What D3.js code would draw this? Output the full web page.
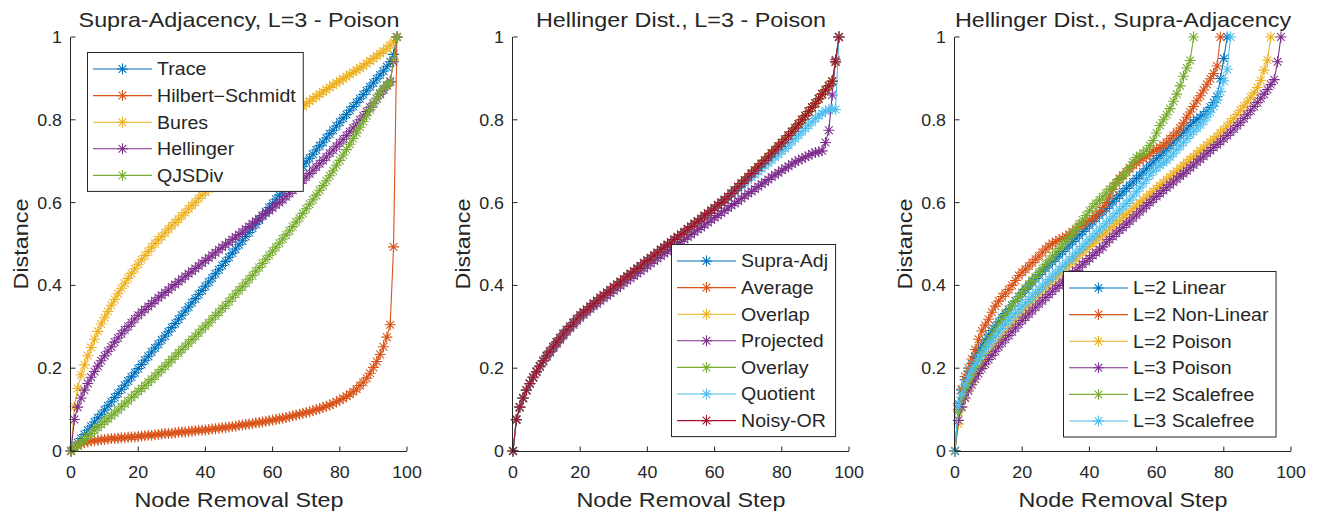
<!DOCTYPE html>
<html>
<head>
<meta charset="utf-8">
<script src="https://cdn.jsdelivr.net/npm/d3@7/dist/d3.min.js"></script>
<style>
  html, body { margin: 0; padding: 0; background: #fff; }
  svg { display: block; }
</style>
</head>
<body>
<svg id="chart" width="1319" height="517"></svg>
<script>
// ---- data (one value per removal step) ----
const xTicks = [0, 20, 40, 60, 80, 100];
const yTicks = [0, 0.2, 0.4, 0.6, 0.8, 1];
const yTickLabels = ['0', '0.2', '0.4', '0.6', '0.8', '1'];

const titles = [
    'Supra-Adjacency, L=3 - Poison',
    'Hellinger Dist., L=3 - Poison',
    'Hellinger Dist., Supra-Adjacency'
];

const distanceNames = ['Trace', 'Hilbert\u2212Schmidt', 'Bures', 'Hellinger', 'QJSDiv'];
const reductionNames = ['Supra-Adj', 'Average', 'Overlap', 'Projected', 'Overlay', 'Quotient', 'Noisy-OR'];
const networkNames = ['L=2 Linear', 'L=2 Non-Linear', 'L=2 Poison', 'L=3 Poison', 'L=2 Scalefree', 'L=3 Scalefree'];

// Hellinger distance, supra-adjacency, L=3 Poison (shared by the first two panels)
const hellingerL3 = [
    0, 0.076, 0.106, 0.128, 0.147, 0.163, 0.178, 0.192, 0.205, 0.218,
    0.230, 0.241, 0.252, 0.263, 0.273, 0.283, 0.292, 0.301, 0.310, 0.319,
    0.328, 0.335, 0.342, 0.349, 0.356, 0.363, 0.370, 0.376, 0.383, 0.389,
    0.396, 0.402, 0.409, 0.415, 0.422, 0.428, 0.434, 0.441, 0.447, 0.454,
    0.460, 0.466, 0.473, 0.479, 0.486, 0.492, 0.498, 0.504, 0.511, 0.517,
    0.523, 0.529, 0.536, 0.542, 0.549, 0.555, 0.561, 0.568, 0.574, 0.581,
    0.587, 0.594, 0.600, 0.607, 0.614, 0.622, 0.630, 0.638, 0.646, 0.654,
    0.662, 0.670, 0.678, 0.686, 0.694, 0.702, 0.710, 0.719, 0.727, 0.736,
    0.744, 0.753, 0.762, 0.771, 0.780, 0.790, 0.800, 0.810, 0.820, 0.830,
    0.840, 0.851, 0.862, 0.872, 0.882, 0.893, 0.940, 1.000
];

const traceDist = [
    0, 0.010, 0.020, 0.030, 0.040, 0.050, 0.060, 0.070, 0.080, 0.089,
    0.099, 0.109, 0.119, 0.129, 0.139, 0.149, 0.159, 0.169, 0.179, 0.189,
    0.199, 0.209, 0.219, 0.229, 0.239, 0.249, 0.258, 0.268, 0.278, 0.288,
    0.298, 0.308, 0.318, 0.328, 0.338, 0.348, 0.358, 0.368, 0.378, 0.388,
    0.398, 0.408, 0.418, 0.428, 0.438, 0.448, 0.458, 0.468, 0.478, 0.488,
    0.498, 0.508, 0.518, 0.528, 0.538, 0.548, 0.558, 0.568, 0.578, 0.588,
    0.598, 0.608, 0.618, 0.628, 0.638, 0.648, 0.658, 0.668, 0.678, 0.688,
    0.698, 0.707, 0.717, 0.727, 0.737, 0.746, 0.756, 0.766, 0.775, 0.785,
    0.794, 0.804, 0.813, 0.823, 0.832, 0.842, 0.851, 0.861, 0.870, 0.880,
    0.889, 0.899, 0.908, 0.918, 0.928, 0.940, 0.958, 1.000
];

const hilbertSchmidtDist = [
    0, 0.008, 0.013, 0.017, 0.020, 0.022, 0.024, 0.025, 0.026, 0.027,
    0.028, 0.029, 0.030, 0.030, 0.031, 0.032, 0.032, 0.033, 0.034, 0.034,
    0.035, 0.036, 0.037, 0.038, 0.038, 0.039, 0.040, 0.041, 0.042, 0.042,
    0.043, 0.044, 0.045, 0.046, 0.046, 0.047, 0.048, 0.049, 0.050, 0.050,
    0.051, 0.052, 0.053, 0.054, 0.055, 0.056, 0.057, 0.058, 0.059, 0.060,
    0.062, 0.063, 0.064, 0.065, 0.066, 0.068, 0.069, 0.070, 0.072, 0.073,
    0.075, 0.076, 0.078, 0.079, 0.081, 0.083, 0.085, 0.087, 0.089, 0.091,
    0.093, 0.095, 0.097, 0.100, 0.102, 0.105, 0.108, 0.111, 0.115, 0.119,
    0.123, 0.127, 0.132, 0.137, 0.143, 0.150, 0.158, 0.166, 0.176, 0.188,
    0.202, 0.216, 0.233, 0.252, 0.275, 0.305, 0.493, 1.000
];

const buresDist = [
    0, 0.107, 0.151, 0.184, 0.208, 0.230, 0.250, 0.270, 0.289, 0.307,
    0.322, 0.337, 0.352, 0.366, 0.380, 0.393, 0.405, 0.417, 0.429, 0.440,
    0.451, 0.462, 0.472, 0.482, 0.492, 0.501, 0.510, 0.518, 0.527, 0.536,
    0.544, 0.552, 0.560, 0.568, 0.576, 0.585, 0.593, 0.601, 0.610, 0.618,
    0.626, 0.633, 0.640, 0.648, 0.655, 0.662, 0.670, 0.677, 0.684, 0.691,
    0.698, 0.705, 0.712, 0.720, 0.727, 0.734, 0.741, 0.748, 0.755, 0.762,
    0.769, 0.776, 0.783, 0.790, 0.797, 0.804, 0.811, 0.818, 0.826, 0.833,
    0.839, 0.845, 0.851, 0.856, 0.862, 0.867, 0.873, 0.878, 0.884, 0.889,
    0.894, 0.899, 0.904, 0.910, 0.915, 0.920, 0.925, 0.930, 0.936, 0.942,
    0.948, 0.954, 0.960, 0.966, 0.973, 0.980, 0.988, 1.000
];

const qjsDiv = [
    0, 0.007, 0.014, 0.021, 0.028, 0.035, 0.042, 0.050, 0.057, 0.064,
    0.071, 0.078, 0.085, 0.092, 0.099, 0.107, 0.114, 0.121, 0.129, 0.136,
    0.144, 0.151, 0.158, 0.166, 0.173, 0.181, 0.189, 0.197, 0.205, 0.213,
    0.221, 0.229, 0.237, 0.245, 0.253, 0.261, 0.269, 0.277, 0.285, 0.294,
    0.302, 0.310, 0.318, 0.327, 0.335, 0.344, 0.352, 0.361, 0.370, 0.379,
    0.388, 0.397, 0.406, 0.415, 0.424, 0.434, 0.443, 0.453, 0.463, 0.473,
    0.483, 0.492, 0.502, 0.512, 0.522, 0.532, 0.542, 0.553, 0.563, 0.574,
    0.585, 0.596, 0.607, 0.618, 0.630, 0.641, 0.653, 0.665, 0.677, 0.690,
    0.702, 0.715, 0.728, 0.741, 0.755, 0.768, 0.782, 0.796, 0.810, 0.824,
    0.838, 0.852, 0.865, 0.876, 0.884, 0.890, 0.945, 1.000
];

const projectedDist = [
    0, 0.075, 0.105, 0.127, 0.146, 0.162, 0.177, 0.190, 0.203, 0.216,
    0.227, 0.238, 0.249, 0.259, 0.269, 0.279, 0.288, 0.297, 0.305, 0.314,
    0.322, 0.329, 0.336, 0.343, 0.350, 0.356, 0.363, 0.369, 0.375, 0.381,
    0.387, 0.393, 0.399, 0.405, 0.411, 0.417, 0.423, 0.429, 0.435, 0.441,
    0.447, 0.453, 0.459, 0.465, 0.471, 0.477, 0.482, 0.488, 0.494, 0.500,
    0.506, 0.511, 0.517, 0.523, 0.529, 0.535, 0.540, 0.546, 0.552, 0.558,
    0.564, 0.569, 0.575, 0.581, 0.587, 0.593, 0.598, 0.604, 0.610, 0.616,
    0.622, 0.627, 0.633, 0.639, 0.645, 0.650, 0.656, 0.662, 0.667, 0.672,
    0.678, 0.683, 0.688, 0.693, 0.698, 0.702, 0.706, 0.710, 0.714, 0.718,
    0.721, 0.723, 0.725, 0.745, 0.775, 0.860, 0.945, 1.000
];

const quotientDist = [
    0, 0.076, 0.106, 0.128, 0.147, 0.163, 0.178, 0.192, 0.205, 0.218,
    0.230, 0.241, 0.252, 0.263, 0.273, 0.283, 0.292, 0.301, 0.310, 0.319,
    0.328, 0.335, 0.342, 0.349, 0.356, 0.363, 0.370, 0.376, 0.383, 0.389,
    0.396, 0.402, 0.409, 0.415, 0.422, 0.428, 0.434, 0.441, 0.447, 0.454,
    0.460, 0.466, 0.473, 0.479, 0.486, 0.492, 0.498, 0.504, 0.511, 0.517,
    0.523, 0.529, 0.536, 0.542, 0.549, 0.555, 0.561, 0.568, 0.574, 0.581,
    0.587, 0.594, 0.600, 0.607, 0.613, 0.620, 0.627, 0.634, 0.641, 0.648,
    0.655, 0.662, 0.668, 0.675, 0.682, 0.689, 0.696, 0.703, 0.710, 0.717,
    0.724, 0.731, 0.739, 0.747, 0.755, 0.763, 0.771, 0.779, 0.787, 0.795,
    0.803, 0.810, 0.816, 0.821, 0.825, 0.826, 0.825, 1.000
];

const l2Linear = [
    0, 0.114, 0.147, 0.172, 0.193, 0.211, 0.228, 0.243, 0.256, 0.268,
    0.280, 0.291, 0.302, 0.312, 0.322, 0.332, 0.342, 0.352, 0.362, 0.372,
    0.381, 0.390, 0.399, 0.408, 0.417, 0.426, 0.434, 0.442, 0.450, 0.458,
    0.466, 0.474, 0.482, 0.490, 0.498, 0.506, 0.514, 0.522, 0.530, 0.538,
    0.546, 0.554, 0.562, 0.570, 0.578, 0.586, 0.594, 0.602, 0.610, 0.618,
    0.626, 0.634, 0.642, 0.650, 0.658, 0.666, 0.674, 0.682, 0.690, 0.698,
    0.706, 0.714, 0.722, 0.730, 0.738, 0.746, 0.754, 0.762, 0.770, 0.778,
    0.786, 0.794, 0.800, 0.806, 0.812, 0.820, 0.830, 0.842, 0.856, 0.900,
    0.948, 1.000
];

const l2NonLinear = [
    0, 0.100, 0.150, 0.180, 0.200, 0.222, 0.245, 0.270, 0.290, 0.304,
    0.318, 0.335, 0.350, 0.362, 0.373, 0.381, 0.390, 0.400, 0.412, 0.424,
    0.432, 0.439, 0.447, 0.455, 0.463, 0.471, 0.480, 0.488, 0.495, 0.501,
    0.506, 0.510, 0.514, 0.518, 0.523, 0.529, 0.536, 0.542, 0.548, 0.553,
    0.558, 0.563, 0.569, 0.578, 0.588, 0.600, 0.616, 0.632, 0.647, 0.658,
    0.666, 0.674, 0.682, 0.690, 0.696, 0.701, 0.706, 0.712, 0.718, 0.724,
    0.728, 0.733, 0.739, 0.746, 0.754, 0.762, 0.770, 0.780, 0.792, 0.806,
    0.819, 0.832, 0.846, 0.858, 0.872, 0.886, 0.899, 0.912, 0.930, 1.000
];

const l2Poison = [
    0, 0.065, 0.107, 0.130, 0.150, 0.167, 0.182, 0.196, 0.209, 0.222,
    0.234, 0.245, 0.256, 0.267, 0.277, 0.287, 0.297, 0.307, 0.316, 0.325,
    0.334, 0.343, 0.352, 0.361, 0.370, 0.378, 0.386, 0.394, 0.402, 0.410,
    0.418, 0.426, 0.434, 0.442, 0.450, 0.458, 0.465, 0.473, 0.480, 0.487,
    0.494, 0.501, 0.508, 0.515, 0.522, 0.529, 0.536, 0.543, 0.550, 0.557,
    0.564, 0.571, 0.578, 0.585, 0.592, 0.599, 0.606, 0.613, 0.620, 0.627,
    0.634, 0.641, 0.648, 0.655, 0.662, 0.669, 0.676, 0.683, 0.690, 0.697,
    0.704, 0.711, 0.718, 0.725, 0.732, 0.739, 0.746, 0.753, 0.760, 0.768,
    0.776, 0.785, 0.794, 0.803, 0.813, 0.823, 0.833, 0.843, 0.854, 0.865,
    0.878, 0.895, 0.920, 0.944, 1.000
];

const l3Poison = [
    0, 0.074, 0.106, 0.128, 0.145, 0.160, 0.174, 0.187, 0.199, 0.210,
    0.221, 0.231, 0.241, 0.251, 0.261, 0.270, 0.279, 0.288, 0.297, 0.306,
    0.315, 0.323, 0.331, 0.339, 0.347, 0.355, 0.363, 0.371, 0.378, 0.386,
    0.393, 0.400, 0.408, 0.415, 0.422, 0.429, 0.436, 0.444, 0.451, 0.458,
    0.465, 0.472, 0.479, 0.486, 0.493, 0.503, 0.511, 0.518, 0.526, 0.533,
    0.540, 0.548, 0.555, 0.563, 0.570, 0.578, 0.585, 0.593, 0.600, 0.608,
    0.615, 0.622, 0.629, 0.636, 0.643, 0.650, 0.657, 0.664, 0.670, 0.677,
    0.684, 0.691, 0.698, 0.705, 0.712, 0.719, 0.726, 0.733, 0.740, 0.747,
    0.754, 0.762, 0.770, 0.778, 0.786, 0.794, 0.803, 0.812, 0.822, 0.832,
    0.842, 0.852, 0.862, 0.873, 0.885, 0.897, 0.940, 1.000
];

const l2Scalefree = [
    0, 0.095, 0.130, 0.150, 0.165, 0.183, 0.201, 0.219, 0.236, 0.252,
    0.266, 0.279, 0.292, 0.305, 0.317, 0.329, 0.340, 0.351, 0.362, 0.373,
    0.383, 0.393, 0.403, 0.412, 0.421, 0.431, 0.441, 0.451, 0.461, 0.471,
    0.480, 0.489, 0.498, 0.507, 0.516, 0.526, 0.537, 0.548, 0.558, 0.569,
    0.580, 0.590, 0.598, 0.606, 0.614, 0.623, 0.632, 0.640, 0.648, 0.656,
    0.664, 0.674, 0.685, 0.698, 0.709, 0.714, 0.719, 0.727, 0.738, 0.750,
    0.768, 0.786, 0.800, 0.812, 0.827, 0.845, 0.862, 0.882, 0.905, 0.925,
    0.943, 1.000
];

const l3Scalefree = [
    0, 0.110, 0.138, 0.160, 0.180, 0.196, 0.209, 0.221, 0.233, 0.245,
    0.256, 0.266, 0.276, 0.286, 0.296, 0.306, 0.315, 0.324, 0.333, 0.342,
    0.350, 0.358, 0.366, 0.374, 0.382, 0.390, 0.398, 0.406, 0.414, 0.422,
    0.430, 0.438, 0.446, 0.454, 0.462, 0.470, 0.478, 0.486, 0.494, 0.502,
    0.510, 0.518, 0.526, 0.534, 0.542, 0.550, 0.558, 0.566, 0.574, 0.582,
    0.590, 0.598, 0.606, 0.616, 0.626, 0.636, 0.646, 0.656, 0.666, 0.676,
    0.684, 0.690, 0.696, 0.703, 0.711, 0.719, 0.728, 0.737, 0.746, 0.755,
    0.764, 0.772, 0.780, 0.788, 0.797, 0.807, 0.818, 0.832, 0.848, 0.868,
    0.894, 0.922, 1.000
];

const matlabColors = ['#0072BD', '#D95319', '#EDB120', '#7E2F8E', '#77AC30', '#4DBEEE', '#A2142F'];

// ---- layout ----
const FONT = "'Liberation Sans', Arial, Helvetica, sans-serif";
const INK = '#262626';
const PLOT_TOP = 37;
const PLOT_BOTTOM = 451;
const PLOT_W = 336;
const TICK_LEN = 4.5;
const STRETCH = 1.14;          // the saved figure is a little wider than tall

const panels = [
    { x0: 71,  title: titles[0], names: distanceNames,
      series: [traceDist, hilbertSchmidtDist, buresDist, hellingerL3, qjsDiv],
      legend: { x: 87, y: 52 } },
    { x0: 513, title: titles[1], names: reductionNames,
      series: [hellingerL3, hellingerL3, hellingerL3, projectedDist, hellingerL3, quotientDist, hellingerL3],
      legend: { x: 671, y: 244 } },
    { x0: 955, title: titles[2], names: networkNames,
      series: [l2Linear, l2NonLinear, l2Poison, l3Poison, l2Scalefree, l3Scalefree],
      legend: { x: 1063, y: 271 } }
];

const svg = d3.select('#chart');

function addText(parent, x, y, str, size, anchor, sx, rotate) {
    const rot = rotate ? ` rotate(${rotate})` : '';
    return parent.append('text')
        .attr('transform', `translate(${x},${y})${rot} scale(${sx},1)`)
        .attr('text-anchor', anchor)
        .style('font-family', FONT)
        .style('font-size', `${size}px`)
        .style('fill', INK)
        .text(str);
}

function starPath(r) {
    const d = r * 0.7071;
    return `M${-r},0L${r},0M0,${-r}L0,${r}M${-d},${-d}L${d},${d}M${-d},${d}L${d},${-d}`;
}
const STAR = starPath(5.5);

function drawPanel(p) {
    const x = d3.scaleLinear().domain([0, 100]).range([p.x0, p.x0 + PLOT_W]);
    const y = d3.scaleLinear().domain([0, 1]).range([PLOT_BOTTOM, PLOT_TOP]);
    const g = svg.append('g');

    // series
    const line = d3.line().x((d, i) => x(i)).y(d => y(d));
    p.series.forEach((vals, k) => {
        const color = matlabColors[k];
        const sg = g.append('g');
        sg.append('path')
            .attr('d', line(vals))
            .attr('fill', 'none')
            .attr('stroke', color)
            .attr('stroke-width', 1.1);
        sg.selectAll('path.mk')
            .data(vals)
            .join('path')
            .attr('class', 'mk')
            .attr('d', STAR)
            .attr('transform', (d, i) => `translate(${x(i)},${y(d)})`)
            .attr('fill', 'none')
            .attr('stroke', color)
            .attr('stroke-width', 1.05);
    });

    // axes (left + bottom only, ticks pointing inward)
    const ax = g.append('g').attr('stroke', INK).attr('stroke-width', 1).attr('fill', 'none');
    ax.append('line').attr('x1', x(0) - 0.5).attr('x2', x(0) - 0.5)
        .attr('y1', y(0)).attr('y2', y(1));
    ax.append('line').attr('x1', x(0) - 0.5).attr('x2', x(100))
        .attr('y1', y(0) + 0.5).attr('y2', y(0) + 0.5);
    xTicks.forEach(t => {
        ax.append('line').attr('x1', x(t)).attr('x2', x(t))
            .attr('y1', y(0)).attr('y2', y(0) - TICK_LEN);
        addText(g, x(t), y(0) + 27, String(t), 16.5, 'middle', 1.08);
    });
    yTicks.forEach((t, i) => {
        ax.append('line').attr('x1', x(0)).attr('x2', x(0) + TICK_LEN)
            .attr('y1', y(t)).attr('y2', y(t));
        addText(g, x(0) - 9, y(t) + 6, yTickLabels[i], 16.5, 'end', 1.08);
    });

    // titles
    const cx = (x(0) + x(100)) / 2;
    addText(g, cx, 27, p.title, 20.5, 'middle', STRETCH);
    addText(g, cx, 507, 'Node Removal Step', 20.5, 'middle', STRETCH);
    addText(g, x(0) - 43, (y(0) + y(1)) / 2, 'Distance', 20.5, 'middle', STRETCH, -90);

    // legend
    const lg = g.append('g');
    const box = lg.append('rect')
        .attr('x', p.legend.x + 0.5).attr('y', p.legend.y + 0.5)
        .attr('fill', '#fff').attr('stroke', INK).attr('stroke-width', 1);
    let maxW = 0;
    p.names.forEach((name, k) => {
        const cy = p.legend.y + 17 + k * 26.6;
        const color = matlabColors[k];
        lg.append('line')
            .attr('x1', p.legend.x + 6).attr('x2', p.legend.x + 65)
            .attr('y1', cy).attr('y2', cy)
            .attr('stroke', color).attr('stroke-width', 1.1);
        lg.append('path').attr('d', STAR)
            .attr('transform', `translate(${p.legend.x + 35.5},${cy})`)
            .attr('fill', 'none').attr('stroke', color).attr('stroke-width', 1.05);
        const t = addText(lg, p.legend.x + 70, cy + 6.3, name, 17.5, 'start', 1.12);
        maxW = Math.max(maxW, t.node().getComputedTextLength() * 1.12);
    });
    box.attr('width', 70 + maxW + 7)
        .attr('height', 17 + (p.names.length - 1) * 26.6 + 15.5);
}

panels.forEach(drawPanel);
</script>
</body>
</html>
